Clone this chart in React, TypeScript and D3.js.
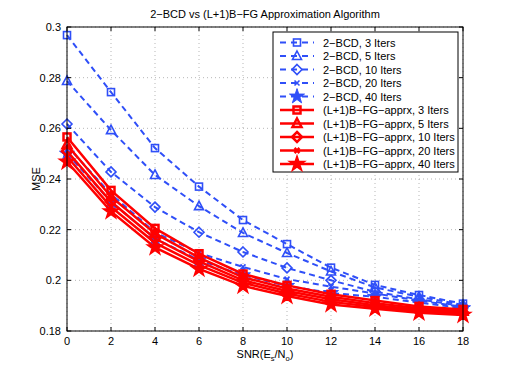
import * as d3 from "d3";

const snr = [0, 2, 4, 6, 8, 10, 12, 14, 16, 18];
const xTicks = [0, 2, 4, 6, 8, 10, 12, 14, 16, 18];
const yTicks = [0.18, 0.2, 0.22, 0.24, 0.26, 0.28, 0.3];

// 2-BCD (blue, dashed)
const bcd3 = [0.2968, 0.2743, 0.2522, 0.237, 0.2238, 0.2143, 0.205, 0.1982, 0.1942, 0.1908];
const bcd5 = [0.2787, 0.2593, 0.2416, 0.2293, 0.2187, 0.2108, 0.2035, 0.1972, 0.1935, 0.1903];
const bcd10 = [0.2617, 0.2428, 0.2289, 0.219, 0.2112, 0.2049, 0.2, 0.1955, 0.1925, 0.1898];
const bcd20 = [0.253, 0.234, 0.219, 0.2108, 0.2053, 0.2005, 0.1975, 0.1948, 0.192, 0.1895];
const bcd40 = [0.25, 0.231, 0.2165, 0.208, 0.202, 0.1978, 0.195, 0.1935, 0.1912, 0.189];

// (L+1)B-FG-apprx (red, solid)
const fg3 = [0.2566, 0.2355, 0.2205, 0.2105, 0.2025, 0.198, 0.1945, 0.192, 0.1897, 0.1885];
const fg5 = [0.2535, 0.233, 0.2185, 0.209, 0.2012, 0.1968, 0.1935, 0.191, 0.189, 0.1878];
const fg10 = [0.251, 0.231, 0.2165, 0.2075, 0.2, 0.1958, 0.1925, 0.1902, 0.1884, 0.1873];
const fg20 = [0.2488, 0.229, 0.2148, 0.206, 0.199, 0.1948, 0.1915, 0.1895, 0.1878, 0.1868];
const fg40 = [0.2468, 0.2272, 0.213, 0.2045, 0.1978, 0.1938, 0.1905, 0.1888, 0.1872, 0.1863];

const BLUE = "#2f4ff8";
const RED = "#ff0000";

const series = [
  { name: "2\u2212BCD, 3 Iters", values: bcd3, color: BLUE, dash: true, marker: "square" },
  { name: "2\u2212BCD, 5 Iters", values: bcd5, color: BLUE, dash: true, marker: "triangle" },
  { name: "2\u2212BCD, 10 Iters", values: bcd10, color: BLUE, dash: true, marker: "diamond" },
  { name: "2\u2212BCD, 20 Iters", values: bcd20, color: BLUE, dash: true, marker: "x" },
  { name: "2\u2212BCD, 40 Iters", values: bcd40, color: BLUE, dash: true, marker: "star" },
  { name: "(L+1)B\u2212FG\u2212apprx, 3 Iters", values: fg3, color: RED, dash: false, marker: "square" },
  { name: "(L+1)B\u2212FG\u2212apprx, 5 Iters", values: fg5, color: RED, dash: false, marker: "triangle" },
  { name: "(L+1)B\u2212FG\u2212apprx, 10 Iters", values: fg10, color: RED, dash: false, marker: "diamond" },
  { name: "(L+1)B\u2212FG\u2212apprx, 20 Iters", values: fg20, color: RED, dash: false, marker: "x" },
  { name: "(L+1)B\u2212FG\u2212apprx, 40 Iters", values: fg40, color: RED, dash: false, marker: "star" },
];

const W = 512;
const H = 374;
const left = 67;
const right = 463;
const top = 27;
const bottom = 331;

const x = d3.scaleLinear().domain([0, 18]).range([left, right]);
const y = d3.scaleLinear().domain([0.18, 0.3]).range([bottom, top]);

const starPath = d3.symbol().type(d3.symbolStar).size(70)();

function Marker({ type, cx, cy, color, sw }) {
  const t = `translate(${cx},${cy})`;
  const common = { fill: "none", stroke: color, strokeWidth: sw };
  if (type === "square") return <rect x={cx - 3.5} y={cy - 3.5} width={7} height={7} {...common} />;
  if (type === "triangle") return <path transform={t} d="M0,-5L4.5,3.5L-4.5,3.5Z" {...common} />;
  if (type === "diamond") return <path transform={t} d="M0,-5L5,0L0,5L-5,0Z" {...common} />;
  if (type === "x") return <path transform={t} d="M-2.5,-2.5L2.5,2.5M-2.5,2.5L2.5,-2.5" {...common} />;
  return <path transform={t} d={starPath} fill={color} stroke={color} strokeWidth={sw * 0.6} />;
}

export default function App() {
  const line = d3
    .line<number>()
    .x((d, i) => x(snr[i]))
    .y((d) => y(d));

  const font = "'Liberation Sans', Arial, Helvetica, sans-serif";

  return (
    <svg
      width={W}
      height={H}
      style={{ position: "absolute", left: 0, top: 0, background: "#fff" }}
      fontFamily={font}
    >
      <rect x={0} y={0} width={W} height={H} fill="#fff" />
      {/* grid */}
      {xTicks.map((t) => (
        <line key={"gx" + t} x1={x(t)} x2={x(t)} y1={top} y2={bottom} stroke="#888" strokeWidth={0.6} strokeDasharray="1,3" />
      ))}
      {yTicks.map((t) => (
        <line key={"gy" + t} x1={left} x2={right} y1={y(t)} y2={y(t)} stroke="#888" strokeWidth={0.6} strokeDasharray="1,3" />
      ))}

      {/* series: blue first, red on top */}
      {series.map((s) => (
        <g key={s.name}>
          <path
            d={line(s.values)}
            fill="none"
            stroke={s.color}
            strokeWidth={s.dash ? 2 : 2.5}
            strokeDasharray={s.dash ? "6,4" : undefined}
          />
          {s.values.map((v, i) => (
            <Marker key={i} type={s.marker} cx={x(snr[i])} cy={y(v)} color={s.color} sw={s.dash ? 1.6 : 2.5} />
          ))}
        </g>
      ))}

      {/* axes box and ticks */}
      <rect x={left} y={top} width={right - left} height={bottom - top} fill="none" stroke="#000" strokeWidth={1} />
      {xTicks.map((t) => (
        <g key={"tx" + t}>
          <line x1={x(t)} x2={x(t)} y1={bottom} y2={bottom - 4} stroke="#000" />
          <line x1={x(t)} x2={x(t)} y1={top} y2={top + 4} stroke="#000" />
          <text x={x(t)} y={bottom + 14} textAnchor="middle" fontSize={11}>
            {t}
          </text>
        </g>
      ))}
      {yTicks.map((t) => (
        <g key={"ty" + t}>
          <line x1={left} x2={left + 4} y1={y(t)} y2={y(t)} stroke="#000" />
          <line x1={right} x2={right - 4} y1={y(t)} y2={y(t)} stroke="#000" />
          <text x={left - 6} y={y(t) + 4} textAnchor="end" fontSize={11}>
            {d3.format("")(+t.toFixed(2))}
          </text>
        </g>
      ))}

      {/* title and labels */}
      <text x={(left + right) / 2} y={18} textAnchor="middle" fontSize={11}>
        2{"\u2212"}BCD vs (L+1)B{"\u2212"}FG Approximation Algorithm
      </text>
      <text x={(left + right) / 2} y={358} textAnchor="middle" fontSize={11}>
        SNR(E<tspan fontSize={7.5} dy={2.5}>s</tspan>
        <tspan dy={-2.5}>/N</tspan>
        <tspan fontSize={7.5} dy={2.5}>o</tspan>
        <tspan dy={-2.5}>)</tspan>
      </text>
      <text transform={`translate(40,${(top + bottom) / 2}) rotate(-90)`} textAnchor="middle" fontSize={11}>
        MSE
      </text>

      {/* legend */}
      <g>
        <rect x={273} y={32} width={185} height={140} fill="#fff" stroke="#000" strokeWidth={1} />
        {series.map((s, i) => {
          const ly = 42.5 + i * 13.5;
          return (
            <g key={"lg" + i}>
              <line
                x1={280}
                x2={314}
                y1={ly}
                y2={ly}
                stroke={s.color}
                strokeWidth={s.dash ? 2 : 2.5}
                strokeDasharray={s.dash ? "6,5" : undefined}
              />
              <Marker type={s.marker} cx={297} cy={ly} color={s.color} sw={s.dash ? 1.6 : 2.5} />
              <text x={323} y={ly + 4} fontSize={11}>
                {s.name}
              </text>
            </g>
          );
        })}
      </g>
    </svg>
  );
}
